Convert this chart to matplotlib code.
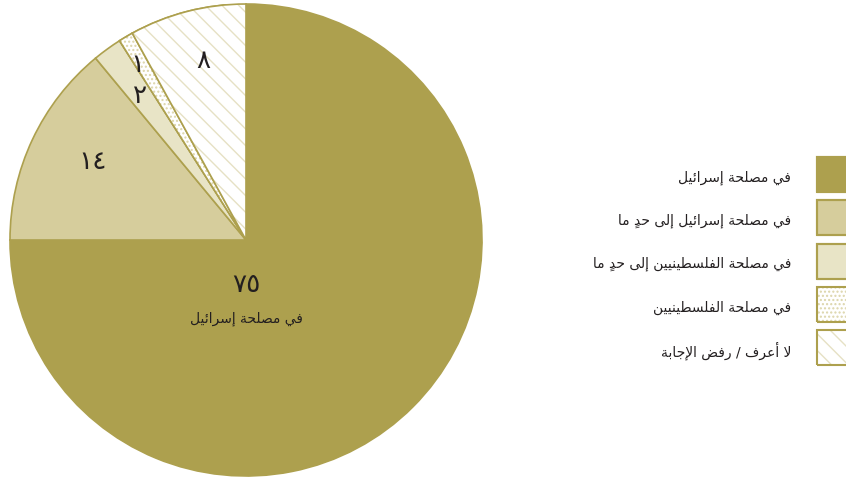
import matplotlib
matplotlib.use("Agg")
import matplotlib.pyplot as plt
from matplotlib.patches import Wedge, Rectangle

plt.rcParams['font.family'] = ['DejaVu Sans']
plt.rcParams['hatch.linewidth'] = 1.0

# data
values = [75, 14, 2, 1, 8]
value_labels = ['٧٥', '١٤', '٢', '١', '٨']
categories = [
    'في مصلحة إسرائيل',
    'في مصلحة إسرائيل إلى حدٍ ما',
    'في مصلحة الفلسطينيين إلى حدٍ ما',
    'في مصلحة الفلسطينيين',
    'لا أعرف / رفض الإجابة',
]
big_caption = 'في مصلحة إسرائيل'

OLIVE = '#ADA04E'
fills = [OLIVE, '#D6CD9C', '#E8E4C6', 'white', 'white']
hatches = [None, None, None, '....', '\\\\']
hatch_cols = [None, None, None, '#DCD5AA', '#E6E1C4']
TXT = '#231F20'

# --- tiny arabic shaper (matplotlib does no shaping / bidi) ---
FORMS = {
    'ا': (0xFE8D, 0xFE8E, None, None),
    'أ': (0xFE83, 0xFE84, None, None),
    'إ': (0xFE87, 0xFE88, None, None),
    'ب': (0xFE8F, 0xFE90, 0xFE91, 0xFE92),
    'ة': (0xFE93, 0xFE94, None, None),
    'ج': (0xFE9D, 0xFE9E, 0xFE9F, 0xFEA0),
    'ح': (0xFEA1, 0xFEA2, 0xFEA3, 0xFEA4),
    'د': (0xFEA9, 0xFEAA, None, None),
    'ر': (0xFEAD, 0xFEAE, None, None),
    'س': (0xFEB1, 0xFEB2, 0xFEB3, 0xFEB4),
    'ص': (0xFEB9, 0xFEBA, 0xFEBB, 0xFEBC),
    'ض': (0xFEBD, 0xFEBE, 0xFEBF, 0xFEC0),
    'ط': (0xFEC1, 0xFEC2, 0xFEC3, 0xFEC4),
    'ع': (0xFEC9, 0xFECA, 0xFECB, 0xFECC),
    'ف': (0xFED1, 0xFED2, 0xFED3, 0xFED4),
    'ل': (0xFEDD, 0xFEDE, 0xFEDF, 0xFEE0),
    'م': (0xFEE1, 0xFEE2, 0xFEE3, 0xFEE4),
    'ن': (0xFEE5, 0xFEE6, 0xFEE7, 0xFEE8),
    'ى': (0xFEEF, 0xFEF0, None, None),
    'ي': (0xFEF1, 0xFEF2, 0xFEF3, 0xFEF4),
    'ئ': (0xFE89, 0xFE8A, 0xFE8B, 0xFE8C),
    'لا': (0xFEFB, 0xFEFC, None, None),
    'لأ': (0xFEF7, 0xFEF8, None, None),
    'لإ': (0xFEF9, 0xFEFA, None, None),
}
MARKS = '\u064b\u064c\u064d\u064e\u064f\u0650\u0651\u0652'


def shape(s):
    units = []
    i = 0
    while i < len(s):
        c = s[i]
        if c == 'ل' and i + 1 < len(s) and s[i + 1] in 'اأإ':
            units.append([c + s[i + 1], ''])
            i += 2
            continue
        if c in MARKS and units:
            units[-1][1] += c
            i += 1
            continue
        units.append([c, ''])
        i += 1
    out = []
    for k, (base, marks) in enumerate(units):
        f = FORMS.get(base)
        if f is None:
            out.append(marks + base)
            continue
        prev = units[k - 1][0] if k > 0 else None
        nxt = units[k + 1][0] if k + 1 < len(units) else None
        join_prev = prev in FORMS and FORMS[prev][2] is not None
        join_next = nxt in FORMS and f[2] is not None
        if join_prev and join_next:
            cp = f[3]
        elif join_prev:
            cp = f[1]
        elif join_next:
            cp = f[2]
        else:
            cp = f[0]
        # zero-width mark goes first so it lands on its own letter
        out.append(marks + chr(cp))
    return ''.join(reversed(out))


W, H = 846, 479
fig = plt.figure(figsize=(W / 100, H / 100), dpi=100)

# pie axes: centre (246,240) px, radius 236 px
cx, cy, r = 246, 240, 236
ax = fig.add_axes([(cx - r) / W, (H - cy - r) / H, 2 * r / W, 2 * r / H])
wedges, _ = ax.pie(values, colors=fills, startangle=90, counterclock=False,
                   wedgeprops=dict(edgecolor=OLIVE, linewidth=1.2))
ax.set_xlim(-1, 1)
ax.set_ylim(-1, 1)
ax.axis('off')

for w, h, hc in zip(wedges, hatches, hatch_cols):
    if h is None:
        continue
    # hatch drawn in its own colour, outline drawn again on top
    hw = Wedge(w.center, w.r, w.theta1, w.theta2, facecolor='white',
               edgecolor=hc, hatch=h, linewidth=0)
    ax.add_patch(hw)
    ax.add_patch(Wedge(w.center, w.r, w.theta1, w.theta2, fill=False,
                       edgecolor=OLIVE, linewidth=1.2))

label_pos = [(0, -0.19), (-0.65, 0.33), (-0.45, 0.61), (-0.46, 0.74), (-0.18, 0.76)]
for (x, y), lab in zip(label_pos, value_labels):
    ax.text(x, y, lab, ha='center', va='center', fontsize=19, color=TXT)
ax.text(0, -0.335, shape(big_caption), ha='center', va='center',
        fontsize=10, color=TXT)

# legend on the right, boxes cut by the figure edge
top0, step, bh = 157, 43.3, 35
for i, lab in enumerate(categories):
    top = top0 + i * step
    rect = Rectangle((817 / W, (H - top - bh) / H), 40 / W, bh / H,
                     transform=fig.transFigure, facecolor=fills[i],
                     edgecolor=OLIVE if hatches[i] is None else hatch_cols[i],
                     hatch=hatches[i], linewidth=0 if hatches[i] else 1.5)
    fig.add_artist(rect)
    fig.add_artist(Rectangle((817 / W, (H - top - bh) / H), 40 / W, bh / H,
                             transform=fig.transFigure, fill=False,
                             edgecolor=OLIVE, linewidth=1.5))
    fig.text(791 / W, (H - top - bh / 2 - 3) / H, shape(lab), ha='right',
             va='center', fontsize=10, color=TXT)

fig.savefig('out.png', dpi=100, facecolor='white')
